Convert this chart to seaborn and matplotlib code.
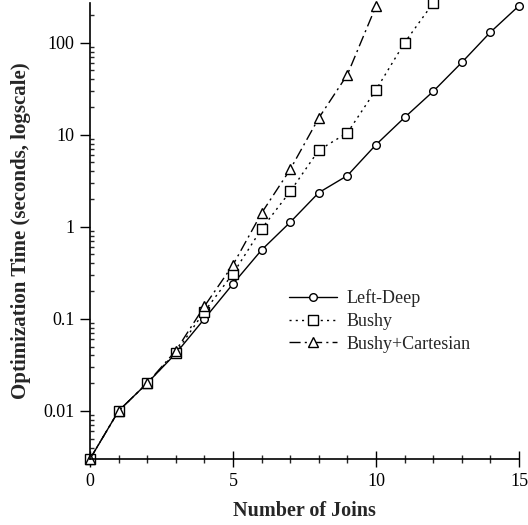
import matplotlib
matplotlib.use("Agg")
import matplotlib.pyplot as plt
import seaborn as sns
import pandas as pd
from matplotlib.ticker import MultipleLocator, LogLocator, FixedLocator, FixedFormatter, NullFormatter

sns.set_theme(style="ticks")
plt.rcParams['font.family'] = ['Liberation Serif', 'DejaVu Serif']

joins_ld = list(range(16))
left_deep = [0.003, 0.01, 0.02, 0.042, 0.1, 0.24, 0.56, 1.12, 2.35, 3.6, 7.8, 15.4, 29.6, 61, 130, 252]
joins_b = list(range(13))
bushy = [0.003, 0.01, 0.02, 0.043, 0.12, 0.31, 0.95, 2.42, 6.8, 10.5, 30.8, 100, 270]
joins_bc = list(range(11))
bushy_cart = [0.003, 0.01, 0.02, 0.045, 0.137, 0.386, 1.41, 4.2, 15.2, 45, 250]

series_names = ["Left-Deep", "Bushy", "Bushy+Cartesian"]
ytick_vals = [0.01, 0.1, 1, 10, 100]
ytick_labels = ["0.01", "0.1", "1", "10", "100"]

fig = plt.figure(figsize=(5.28, 5.25), dpi=100)
ax = fig.add_axes([90/528, 1-459/525, (519-90)/528, (459-3)/525])

common = dict(color="black", linewidth=1.0, markerfacecolor="white",
              markeredgecolor="black", markeredgewidth=1.0, clip_on=False)

df1 = pd.DataFrame({"x": joins_ld, "y": left_deep})
df2 = pd.DataFrame({"x": joins_b, "y": bushy})
df3 = pd.DataFrame({"x": joins_bc, "y": bushy_cart})

sns.lineplot(data=df1, x="x", y="y", ax=ax, marker="o", markersize=5.5,
             linestyle="-", label=series_names[0], **common)
sns.lineplot(data=df2, x="x", y="y", ax=ax, marker="s", markersize=7,
             dashes=(1.5, 3), label=series_names[1], **common)
sns.lineplot(data=df3, x="x", y="y", ax=ax, marker="^", markersize=7,
             dashes=(8, 3, 1.5, 3), label=series_names[2], **common)

ax.set_yscale("log")
ax.set_xlim(0, 15)
ax.set_ylim(0.003, 270)

ax.xaxis.set_major_locator(MultipleLocator(5))
ax.xaxis.set_minor_locator(MultipleLocator(1))
ax.yaxis.set_major_locator(FixedLocator(ytick_vals))
ax.yaxis.set_major_formatter(FixedFormatter(ytick_labels))
ax.yaxis.set_minor_locator(LogLocator(base=10, subs=range(2, 10), numticks=20))
ax.yaxis.set_minor_formatter(NullFormatter())

ax.tick_params(axis="x", which="major", direction="inout", length=12, width=1.0,
               labelsize=13, colors="black", pad=4)
ax.tick_params(axis="x", which="minor", direction="inout", length=6, width=1.0)
ax.tick_params(axis="y", which="major", direction="out", length=7, width=1.0,
               labelsize=13, colors="black", pad=4)
ax.tick_params(axis="y", which="minor", direction="in", length=3, width=1.0)

for s in ["top", "right"]:
    ax.spines[s].set_visible(False)
for s in ["left", "bottom"]:
    ax.spines[s].set_linewidth(1.2)
    ax.spines[s].set_color("black")

ax.set_xlabel("Number of Joins", fontsize=14.5, fontweight="bold", labelpad=8)
ax.set_ylabel("Optimization Time (seconds, logscale)", fontsize=15, fontweight="bold", labelpad=9)

leg = ax.legend(loc="upper left", bbox_to_anchor=(0.448, 0.388), frameon=False,
                fontsize=13, handlelength=2.66, numpoints=1, labelspacing=0.32,
                handletextpad=0.5, borderaxespad=0)

fig.savefig("out.png", dpi=100)
